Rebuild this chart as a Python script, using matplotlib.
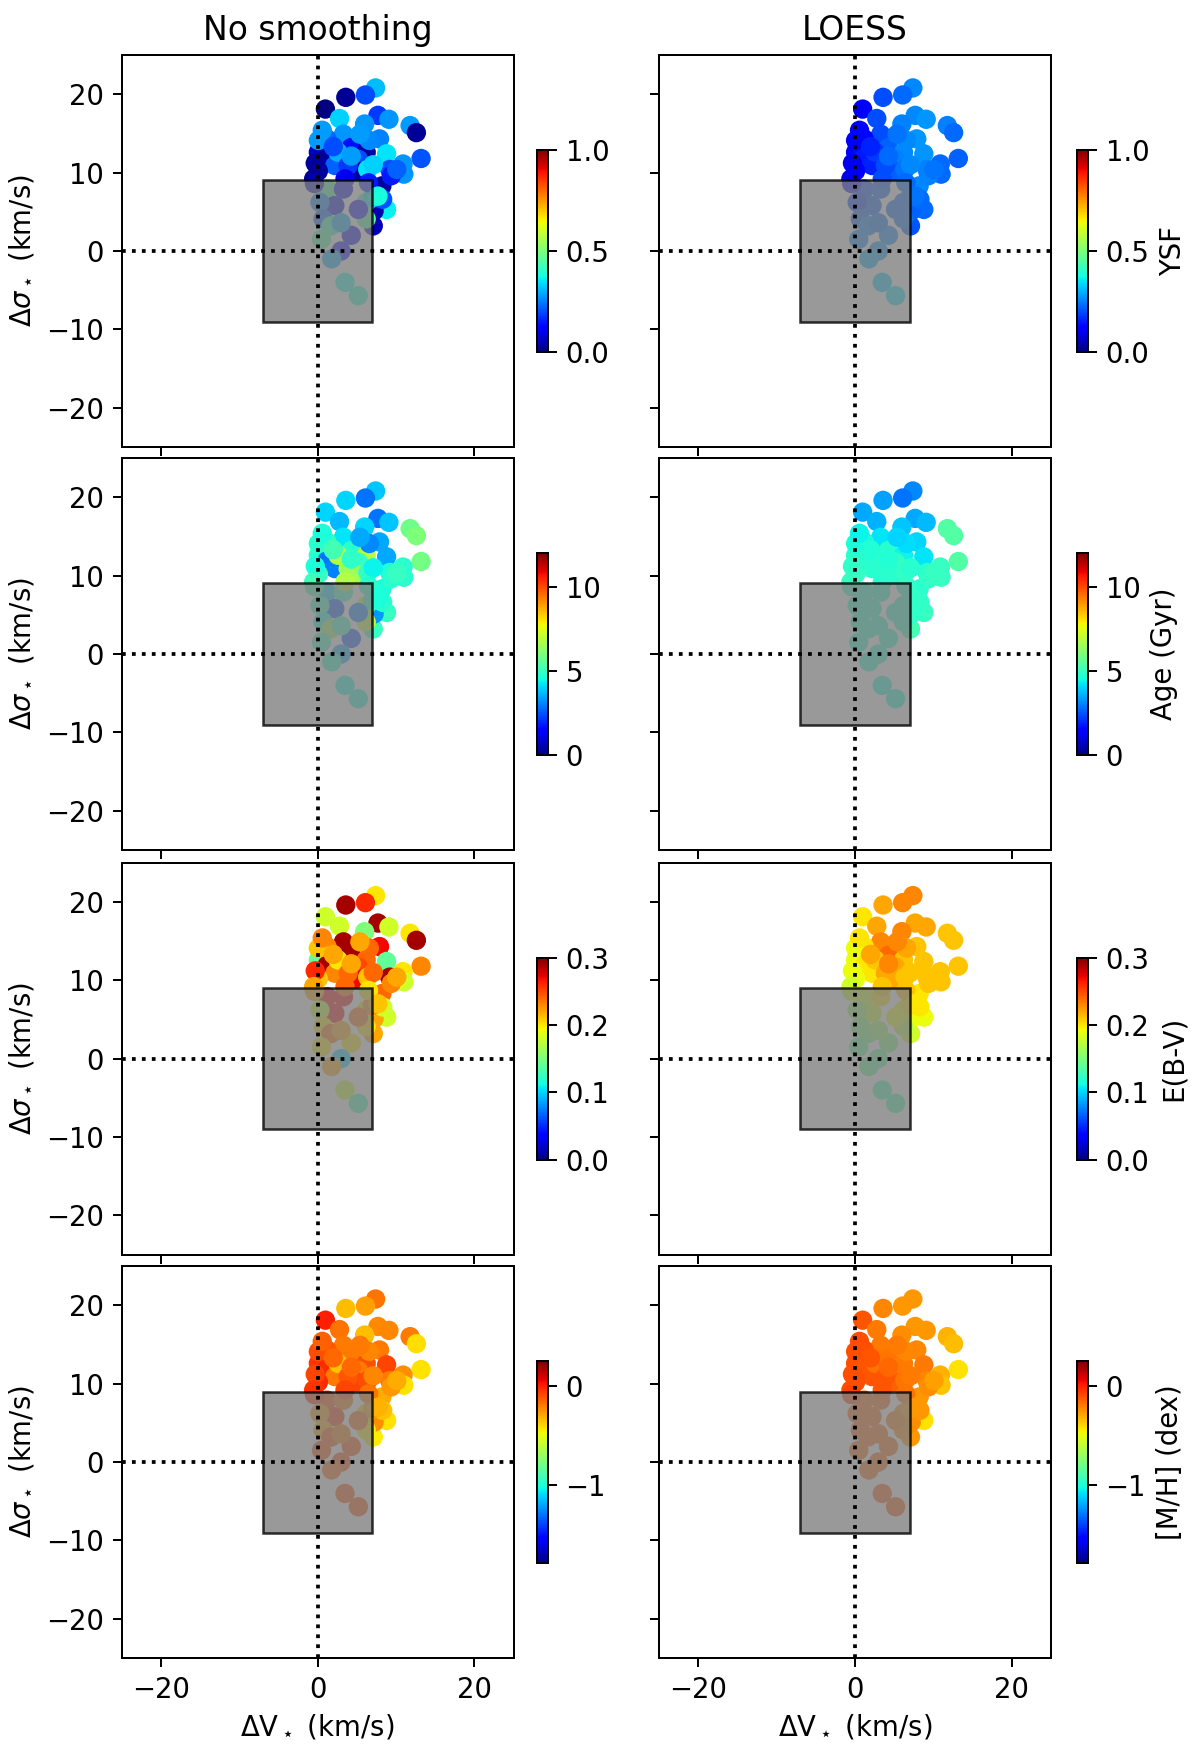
import numpy as np
import matplotlib
matplotlib.use("Agg")
import matplotlib.pyplot as plt
from matplotlib.patches import Rectangle

plt.rcParams["font.size"] = 11

# positions of the spaxels (km/s)
dv = [7.4, 6.1, 3.6, 1.0, 2.8, 7.7, 9.1, 6.0, 11.8, 12.6,
      3.3, 1.2, 7.9, 13.2, 0.1, 1.2, 4.3, 6.2, 5.2, 8.8,
      10.9, 11.0, 9.2, 8.2, 5.0, 2.2, 0.1, 8.8, 7.1, 7.2,
      8.3, 1.2, 3.3, 2.2, 6.2, 0.3, 0.7, 1.7, 4.3, 6.2,
      0.5, 3.0, 1.8, 3.5, 5.2, 0.1, 2.6, 6.6, 9.4, -0.3,
      6.4, 3.9, 5.4, 7.0, -0.5, 5.2, 3.0, 0.6, 2.0, 7.1,
      10.1, 3.5, -0.4, 6.5, 7.7, 4.3]
dsig = [20.8, 19.9, 19.6, 18.1, 16.9, 17.3, 16.8, 16.2, 16.0, 15.1,
        14.9, 14.3, 14.3, 11.8, 12.6, 11.9, 13.2, 12.6, 11.7, 12.4,
        11.1, 9.8, 10.4, 8.3, 10.2, 10.9, 10.2, 5.3, 3.2, 5.1,
        6.6, 7.9, 7.9, 5.8, 6.2, 6.2, 4.1, 3.2, 2.0, 4.1,
        1.5, 0.0, -1.0, -4.0, -5.7, 14.1, 12.6, 14.1, 9.6, 11.2,
        10.4, 10.9, 14.9, 6.8, 9.2, 5.3, 3.6, 15.4, 13.3, 11.0,
        10.4, 9.2, 8.6, 8.7, 7.0, 12.1]

# raw values
ysf = [0.31, 0.20, 0.02, 0.00, 0.33, 0.18, 0.27, 0.27, 0.28, 0.02,
       0.27, 0.23, 0.25, 0.21, 0.06, 0.02, 0.14, 0.03, 0.20, 0.35,
       0.27, 0.27, 0.20, 0.03, 0.03, 0.22, 0.03, 0.36, 0.05, 0.04,
       0.21, 0.45, 0.10, 0.08, 0.45, 0.25, 0.22, 0.42, 0.10, 0.45,
       0.45, 0.12, 0.30, 0.38, 0.40, 0.28, 0.30, 0.26, 0.15, 0.03,
       0.35, 0.18, 0.28, 0.35, 0.02, 0.12, 0.30, 0.28, 0.20, 0.33,
       0.22, 0.10, 0.04, 0.15, 0.38, 0.28]
age = [3.8, 2.9, 4.0, 4.0, 3.7, 2.9, 3.8, 4.0, 5.8, 6.0,
       4.2, 5.0, 3.5, 5.9, 4.8, 2.9, 4.8, 6.8, 5.0, 3.5,
       4.8, 4.8, 4.6, 4.6, 6.7, 3.0, 5.0, 5.0, 5.0, 3.3,
       4.8, 4.0, 5.0, 2.5, 7.0, 5.0, 4.5, 6.5, 2.5, 7.0,
       5.0, 3.5, 4.8, 4.5, 4.6, 4.8, 6.8, 3.1, 4.8, 4.6,
       5.0, 6.5, 3.5, 4.8, 5.0, 3.0, 5.0, 4.6, 5.2, 4.4,
       5.0, 6.8, 5.2, 4.8, 4.6, 4.9]
ebv = [0.20, 0.26, 0.29, 0.18, 0.18, 0.29, 0.18, 0.15, 0.20, 0.29,
       0.29, 0.23, 0.27, 0.23, 0.14, 0.29, 0.29, 0.24, 0.25, 0.14,
       0.20, 0.18, 0.29, 0.24, 0.27, 0.23, 0.21, 0.18, 0.22, 0.22,
       0.18, 0.27, 0.27, 0.27, 0.20, 0.18, 0.20, 0.24, 0.20, 0.20,
       0.20, 0.10, 0.22, 0.18, 0.13, 0.21, 0.20, 0.24, 0.23, 0.26,
       0.21, 0.24, 0.22, 0.23, 0.22, 0.24, 0.22, 0.23, 0.22, 0.24,
       0.22, 0.24, 0.22, 0.20, 0.21, 0.22]
mh = [-0.18, -0.28, -0.34, 0.00, -0.18, -0.23, -0.22, -0.34, -0.20, -0.41,
      -0.20, -0.12, -0.20, -0.42, -0.05, -0.02, -0.20, -0.10, -0.20, -0.08,
      -0.24, -0.42, -0.20, -0.30, -0.08, -0.20, -0.02, -0.42, -0.44, -0.24,
      -0.35, -0.10, -0.20, -0.05, -0.40, -0.25, -0.30, -0.10, -0.10, -0.45,
      -0.10, -0.10, -0.15, -0.10, -0.10, -0.10, -0.35, -0.22, -0.26, -0.08,
      -0.10, -0.12, -0.20, -0.25, -0.05, -0.15, -0.20, -0.14, -0.16, -0.22,
      -0.30, -0.08, -0.04, -0.18, -0.32, -0.16]

# LOESS smoothed values
ysf_loess = [0.26, 0.23, 0.20, 0.12, 0.20, 0.26, 0.27, 0.25, 0.25, 0.23,
             0.20, 0.13, 0.27, 0.22, 0.12, 0.15, 0.22, 0.26, 0.25, 0.27,
             0.23, 0.23, 0.25, 0.26, 0.22, 0.16, 0.11, 0.23, 0.21, 0.22,
             0.23, 0.20, 0.22, 0.22, 0.24, 0.18, 0.22, 0.25, 0.26, 0.24,
             0.26, 0.28, 0.30, 0.33, 0.35, 0.12, 0.18, 0.26, 0.25, 0.10,
             0.24, 0.20, 0.24, 0.23, 0.10, 0.23, 0.24, 0.13, 0.16, 0.26,
             0.24, 0.20, 0.10, 0.23, 0.24, 0.23]
age_loess = [3.1, 2.9, 3.4, 3.5, 3.6, 3.5, 3.7, 3.8, 5.4, 5.4,
             4.2, 4.6, 4.0, 5.4, 4.8, 4.8, 4.8, 4.4, 5.0, 4.2,
             5.0, 5.0, 4.8, 4.8, 4.8, 4.8, 5.0, 5.0, 5.2, 4.9,
             4.9, 4.8, 4.8, 4.8, 4.9, 4.8, 4.8, 4.8, 4.8, 4.9,
             4.7, 4.7, 4.7, 4.6, 4.6, 4.6, 4.8, 4.1, 4.9, 4.9,
             4.9, 4.8, 4.0, 4.9, 5.0, 4.9, 4.8, 4.4, 4.7, 4.8,
             5.0, 4.8, 5.0, 4.9, 4.9, 4.7]
ebv_loess = [0.23, 0.23, 0.22, 0.20, 0.22, 0.22, 0.22, 0.23, 0.21, 0.21,
             0.23, 0.20, 0.21, 0.21, 0.19, 0.20, 0.24, 0.21, 0.22, 0.21,
             0.21, 0.21, 0.21, 0.20, 0.22, 0.20, 0.19, 0.19, 0.18, 0.19,
             0.20, 0.18, 0.20, 0.18, 0.19, 0.16, 0.15, 0.15, 0.15, 0.17,
             0.14, 0.14, 0.14, 0.13, 0.13, 0.19, 0.21, 0.22, 0.21, 0.19,
             0.21, 0.22, 0.23, 0.20, 0.18, 0.19, 0.16, 0.20, 0.22, 0.21,
             0.21, 0.21, 0.18, 0.21, 0.20, 0.23]
mh_loess = [-0.26, -0.26, -0.22, -0.12, -0.20, -0.26, -0.26, -0.24, -0.32, -0.34,
            -0.20, -0.10, -0.22, -0.42, -0.10, -0.12, -0.18, -0.20, -0.20, -0.20,
            -0.32, -0.36, -0.22, -0.26, -0.14, -0.12, -0.10, -0.42, -0.26, -0.24,
            -0.26, -0.15, -0.15, -0.15, -0.22, -0.15, -0.15, -0.15, -0.15, -0.22,
            -0.15, -0.15, -0.15, -0.12, -0.12, -0.10, -0.18, -0.22, -0.24, -0.10,
            -0.18, -0.12, -0.20, -0.25, -0.10, -0.20, -0.15, -0.10, -0.12, -0.20,
            -0.28, -0.12, -0.08, -0.18, -0.26, -0.16]

cb_labels = ["YSF", "Age (Gyr)", "E(B-V)", "[M/H] (dex)"]
cb_ranges = [(0.0, 1.0), (0.0, 12.0), (0.0, 0.3), (-1.78, 0.25)]
cb_ticks = [[0.0, 0.5, 1.0], [0, 5, 10], [0.0, 0.1, 0.2, 0.3], [-1, 0]]
raw_vals = [ysf, age, ebv, mh]
loess_vals = [ysf_loess, age_loess, ebv_loess, mh_loess]

fig = plt.figure(figsize=(1200 / 180, 1757 / 180), dpi=180)

col_x = [0.1013, 0.549]
cbar_x = [0.4475, 0.8975]
row_y = [0.7456, 0.5162, 0.2859, 0.0563]
w, h = 0.3267, 0.2231
cb_w, cb_h = 0.0092, 0.115

for row in range(4):
	vmin, vmax = cb_ranges[row]
	for col in range(2):
		ax = fig.add_axes([col_x[col], row_y[row], w, h])
		vals = raw_vals[row] if col == 0 else loess_vals[row]
		sc = ax.scatter(dv, dsig, c=vals, cmap="jet", vmin=vmin, vmax=vmax,
		                s=60, edgecolors="none")
		ax.add_patch(Rectangle((-7, -9), 14, 18, facecolor="gray",
		                       edgecolor="k", alpha=0.8))
		ax.axvline(0, color="k", ls=":")
		ax.axhline(0, color="k", ls=":")
		ax.set_xlim(-25, 25)
		ax.set_ylim(-25, 25)
		ax.set_xticks([-20, 0, 20])
		ax.set_yticks([-20, -10, 0, 10, 20])
		if col == 0:
			ax.set_ylabel(r"$\Delta\sigma_\star$ (km/s)")
		else:
			ax.set_yticklabels([])
		if row == 3:
			ax.set_xlabel(r"$\Delta$V$_\star$ (km/s)")
		else:
			ax.set_xticklabels([])
		if row == 0:
			ax.set_title(["No smoothing", "LOESS"][col])

		cy = row_y[row] + h / 2 - cb_h / 2
		cax = fig.add_axes([cbar_x[col], cy, cb_w, cb_h])
		cb = fig.colorbar(sc, cax=cax, ticks=cb_ticks[row])
		if col == 1:
			cb.set_label(cb_labels[row])

fig.savefig("out.png", dpi=180)
